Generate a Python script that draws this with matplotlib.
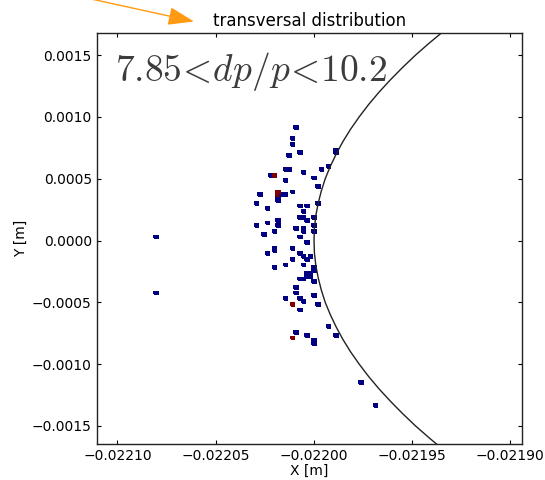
import numpy as np
import matplotlib
matplotlib.use("Agg")
import matplotlib.pyplot as plt
from matplotlib.patches import FancyArrowPatch

plt.rcParams['font.family'] = ['DejaVu Sans']
plt.rcParams['mathtext.fontset'] = 'cm'

# ---- data: occupied histogram cells (x [m], y [m], counts) ----
cell_x = [
    -0.0220090, -0.0220108, -0.0220108, -0.0220071, -0.0219888, -0.0219888,
    -0.0220126, -0.0219925, -0.0220145, -0.0220126, -0.0219961, -0.0220053,
    -0.0220218, -0.0220200, -0.0219998, -0.0220145, -0.0219980, -0.0220108,
    -0.0220181, -0.0220181, -0.0220163, -0.0220145, -0.0220273, -0.0220181,
    -0.0220181, -0.0220291, -0.0219980, -0.0220071, -0.0220035, -0.0220236,
    -0.0220053, -0.0220071, -0.0220053, -0.0219998, -0.0220035, -0.0220181,
    -0.0220236, -0.0220291, -0.0220181, -0.0219998, -0.0220090, -0.0220053,
    -0.0220053, -0.0220200, -0.0219998, -0.0220255, -0.0220071, -0.0220804,
    -0.0220035, -0.0220200, -0.0220200, -0.0220108, -0.0220236, -0.0220071,
    -0.0220053, -0.0220016, -0.0220035, -0.0220108, -0.0220145, -0.0220053,
    -0.0220200, -0.0219998, -0.0219998, -0.0220035, -0.0220016, -0.0220035,
    -0.0220016, -0.0220071, -0.0220053, -0.0219998, -0.0220090, -0.0220090,
    -0.0220804, -0.0219998, -0.0220145, -0.0220071, -0.0220053, -0.0220108,
    -0.0219980, -0.0220071, -0.0219925, -0.0220090, -0.0220035, -0.0219888,
    -0.0220108, -0.0219998, -0.0219998, -0.0219760, -0.0219686,
]
cell_y = [
    9.143e-4, 8.235e-4, 7.781e-4, 7.099e-4, 7.326e-4, 7.099e-4,
    6.872e-4, 5.964e-4, 5.737e-4, 5.737e-4, 5.737e-4, 5.510e-4,
    5.283e-4, 5.283e-4, 5.056e-4, 4.829e-4, 4.375e-4, 3.921e-4,
    3.921e-4, 3.694e-4, 3.694e-4, 3.694e-4, 3.694e-4, 3.467e-4,
    3.240e-4, 3.013e-4, 3.013e-4, 2.786e-4, 2.786e-4, 2.559e-4,
    2.332e-4, 1.878e-4, 1.878e-4, 1.878e-4, 1.651e-4, 1.651e-4,
    1.424e-4, 1.197e-4, 1.197e-4, 1.197e-4, 9.70e-5, 9.70e-5,
    7.42e-5, 7.42e-5, 7.42e-5, 5.15e-5, 2.88e-5, 2.88e-5,
    -1.66e-5, -6.20e-5, -8.47e-5, -6.20e-5, -1.074e-4, -1.074e-4,
    -1.301e-4, -1.301e-4, -1.528e-4, -1.528e-4, -1.982e-4, -1.982e-4,
    -2.209e-4, -2.209e-4, -2.436e-4, -2.663e-4, -2.663e-4, -2.890e-4,
    -2.890e-4, -3.117e-4, -3.117e-4, -3.344e-4, -3.798e-4, -4.252e-4,
    -4.252e-4, -4.479e-4, -4.706e-4, -4.706e-4, -4.933e-4, -5.160e-4,
    -5.160e-4, -5.615e-4, -6.977e-4, -7.431e-4, -7.658e-4, -7.658e-4,
    -7.885e-4, -8.112e-4, -8.339e-4, -1.1518e-3, -1.3334e-3,
]
cell_count = [
    1, 1, 1, 1, 1, 1,
    1, 1, 1, 1, 1, 1,
    1, 2, 1, 1, 1, 1,
    2, 2, 1, 1, 1, 1,
    1, 1, 1, 1, 1, 1,
    1, 1, 1, 1, 1, 1,
    1, 1, 1, 1, 1, 1,
    1, 1, 1, 1, 1, 1,
    1, 1, 1, 1, 1, 1,
    1, 1, 1, 1, 1, 1,
    1, 1, 1, 1, 1, 1,
    1, 1, 1, 1, 1, 1,
    1, 1, 1, 1, 1, 2,
    1, 1, 1, 1, 1, 1,
    2, 1, 1, 1, 1,
]

# boundary curve
curve_y = [-0.0017, -0.0016, -0.0015, -0.0014, -0.0013, -0.0012, -0.0011, -0.0010,
           -0.0009, -0.0008, -0.0007, -0.0006, -0.0005, -0.0004, -0.0003, -0.0002,
           -0.0001, 0.0, 0.0001, 0.0002, 0.0003, 0.0004, 0.0005, 0.0006, 0.0007,
           0.0008, 0.0009, 0.0010, 0.0011, 0.0012, 0.0013, 0.0014, 0.0015, 0.0016,
           0.0017]
curve_x = [-0.0219334, -0.0219410, -0.0219482, -0.0219548, -0.0219610, -0.0219668,
           -0.0219721, -0.0219769, -0.0219813, -0.0219852, -0.0219886, -0.0219916,
           -0.0219942, -0.0219962, -0.0219978, -0.0219990, -0.0219997, -0.0219999,
           -0.0219997, -0.0219990, -0.0219978, -0.0219962, -0.0219942, -0.0219916,
           -0.0219886, -0.0219852, -0.0219813, -0.0219769, -0.0219721, -0.0219668,
           -0.0219610, -0.0219548, -0.0219482, -0.0219410, -0.0219334]

x_ticks = [-0.02210, -0.02205, -0.02200, -0.02195, -0.02190]
y_ticks = [-0.0015, -0.0010, -0.0005, 0.0000, 0.0005, 0.0010, 0.0015]

title = "transversal distribution"
label_text = r'$7.85\!<\!dp/p\!<\!10.2$'

# ---- figure ----
fig = plt.figure(figsize=(5.45, 4.8), dpi=100)
ax = fig.add_axes([0.1773, 0.075, 0.7812, 0.8556])

x_step = 1.833e-6
y_step = 2.2703e-5
x_edges = -0.0220053 + x_step * (np.arange(-58, 62) - 0.5)
y_edges = 1.6506e-4 + y_step * (np.arange(-81, 68) + 0.5)
H, xe, ye = np.histogram2d(cell_x, cell_y, bins=[x_edges, y_edges], weights=cell_count)
Hm = np.ma.masked_where(H.T == 0, H.T)
ax.pcolormesh(xe, ye, Hm, cmap='jet', vmin=1, vmax=2, edgecolors='face',
              linewidth=0.15)

ax.plot(curve_x, curve_y, color='#222222', lw=1.0)

ax.set_xlim(-0.0221106, -0.0218938)
ax.set_ylim(-0.001646, 0.001676)
ax.set_xticks(x_ticks)
ax.set_yticks(y_ticks)
ax.ticklabel_format(useOffset=False)
ax.tick_params(direction='in', length=3, width=0.8, top=True, right=True,
               labelsize=10, colors='black', pad=3.5)
for s in ax.spines.values():
    s.set_linewidth(1.0)
    s.set_color('#222222')

ax.set_xlabel('X [m]', fontsize=10, labelpad=1)
ax.set_ylabel('Y [m]', fontsize=10, labelpad=3)
ax.set_title(title, fontsize=12, pad=5)

ax.text(0.043, 0.885, label_text, transform=ax.transAxes, fontsize=27,
        color='#3c3c3c', ha='left', va='baseline')

arrow = FancyArrowPatch((50, 490), (194, 458.5), transform=None,
                        arrowstyle='-|>,head_length=0.8,head_width=0.28',
                        mutation_scale=20, color='#ff9a12', lw=1.0,
                        shrinkA=0, shrinkB=0)
fig.add_artist(arrow)

fig.savefig('out.png', dpi=100)
